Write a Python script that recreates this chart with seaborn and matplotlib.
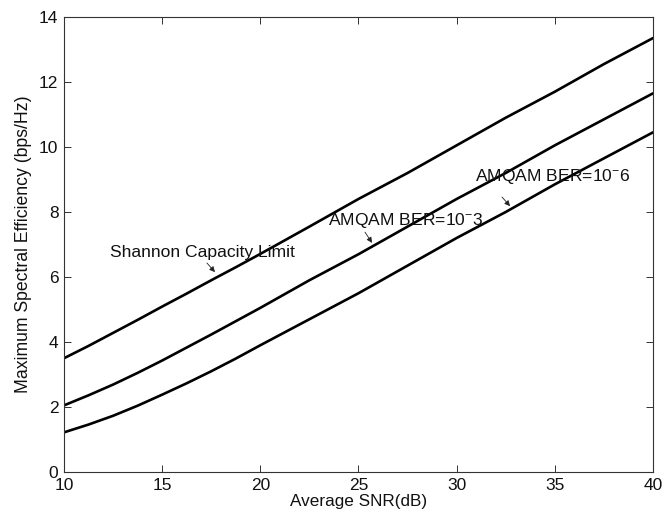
import matplotlib
matplotlib.use("Agg")
import matplotlib.pyplot as plt
import seaborn as sns
import pandas as pd

# Average SNR grid (dB)
snr_db = [10, 11.25, 12.5, 13.75, 15, 16.25, 17.5, 18.75, 20,
          22.5, 25, 27.5, 30, 32.5, 35, 37.5, 40]

# Maximum spectral efficiency (bps/Hz)
shannon = [3.5, 3.88, 4.28, 4.68, 5.09, 5.49, 5.9, 6.3, 6.71,
           7.55, 8.4, 9.2, 10.05, 10.9, 11.7, 12.55, 13.35]
amqam_ber3 = [2.05, 2.36, 2.69, 3.05, 3.43, 3.83, 4.23, 4.64, 5.05,
              5.9, 6.7, 7.55, 8.4, 9.2, 10.05, 10.85, 11.65]
amqam_ber6 = [1.22, 1.46, 1.73, 2.04, 2.38, 2.73, 3.1, 3.49, 3.9,
              4.7, 5.5, 6.35, 7.2, 8.0, 8.85, 9.65, 10.45]

series_names = ["Shannon", "BER3", "BER6"]

x_ticks = [10, 15, 20, 25, 30, 35, 40]
y_ticks = [0, 2, 4, 6, 8, 10, 12, 14]

sns.set_style("ticks")
plt.rcParams["font.family"] = ["Liberation Sans", "DejaVu Sans"]
plt.rcParams["mathtext.fontset"] = "custom"
plt.rcParams["mathtext.rm"] = "Liberation Sans"
plt.rcParams["mathtext.it"] = "Liberation Sans"

df = pd.DataFrame({
    "snr": snr_db * 3,
    "se": shannon + amqam_ber3 + amqam_ber6,
    "curve": [n for n in series_names for _ in snr_db],
})

fig = plt.figure(figsize=(6.64, 5.14), dpi=100)
ax = fig.add_axes([0.0964, 0.0817, 0.887, 0.8853])

sns.lineplot(data=df, x="snr", y="se", hue="curve",
             palette=["black", "black", "black"], linewidth=1.9,
             legend=False, ax=ax)

ax.set_xlim(10, 40)
ax.set_ylim(0, 14)
ax.set_xticks(x_ticks)
ax.set_yticks(y_ticks)
ax.tick_params(direction="in", length=5, width=0.6, top=True, right=True,
               labelsize=12.5, pad=4, colors="#111111")
for side in ax.spines.values():
    side.set_linewidth(0.8)
    side.set_color("#333333")

ax.set_xlabel("Average SNR(dB)", fontsize=12.3, labelpad=1, color="#111111")
ax.set_ylabel("Maximum Spectral Efficiency (bps/Hz)", fontsize=12.7,
              labelpad=5, color="#111111")

arrow = dict(arrowstyle="-|>", lw=0.6, color="#222222", mutation_scale=8,
             shrinkA=0, shrinkB=0)
ax.annotate("", xy=(17.69, 6.15), xytext=(17.28, 6.43), arrowprops=arrow)
ax.annotate("", xy=(25.69, 7.05), xytext=(25.33, 7.38), arrowprops=arrow)
ax.annotate("", xy=(32.72, 8.18), xytext=(32.31, 8.46), arrowprops=arrow)

label_kw = dict(fontsize=12.6, va="center", ha="left", color="#111111")
ax.text(12.34, 6.74, "Shannon Capacity Limit", **label_kw)
ax.text(23.45, 7.75, "AMQAM BER=10$^{-}$3", **label_kw)
ax.text(30.93, 9.08, "AMQAM BER=10$^{-}$6", **label_kw)

fig.savefig("out.png", dpi=100)
